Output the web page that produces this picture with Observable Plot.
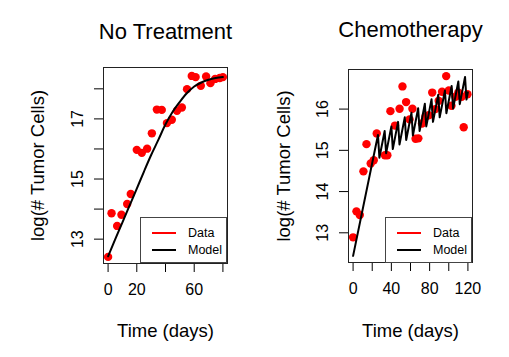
<!DOCTYPE html>
<html>
<head>
<meta charset="utf-8">
<script src="https://cdn.jsdelivr.net/npm/d3@7"></script>
<script src="https://cdn.jsdelivr.net/npm/@observablehq/plot@0.6"></script>
<style>
  html, body { margin: 0; padding: 0; background: #fff; }
  #wrap { position: relative; width: 509px; height: 357px; overflow: hidden; font-family: "Liberation Sans", Arial, sans-serif; }
  #wrap > svg, #wrap > figure { position: absolute; top: 0; margin: 0; }
  .legend { position: absolute; background: #fff; border: 1px solid #444; box-sizing: border-box; width: 87px; height: 46px; font-size: 12.5px; }
  .legend .row { position: absolute; left: 0; height: 16px; width: 100%; }
  .legend .sw { position: absolute; left: 11px; top: 7px; width: 24px; height: 2px; }
  .legend .lab { position: absolute; left: 47px; top: 0; line-height: 16px; }
</style>
</head>
<body>
<div id="wrap"></div>
<script>
// ---------- No Treatment ----------
const ntDays   = [0, 2.4, 6.3, 9.3, 13.3, 15.8, 20, 23.5, 27.2, 30.5, 34, 37.4, 41, 44.4, 48, 51.4, 55, 58.3, 61, 64.6, 68.3, 71.3, 74.6, 77.8, 80];
const ntValues = [12.41, 13.86, 13.44, 13.81, 14.17, 14.5, 15.97, 15.87, 16.01, 16.52, 17.31, 17.3, 16.86, 16.97, 17.27, 17.38, 17.99, 18.43, 18.39, 18.1, 18.41, 18.19, 18.33, 18.36, 18.39];
const ntModelDays   = [0, 5, 10, 15, 20, 25, 30, 35, 40, 45, 50, 55, 60, 65, 70, 75, 80];
const ntModelValues = [12.43, 13.0, 13.56, 14.12, 14.68, 15.25, 15.8, 16.3, 16.82, 17.24, 17.57, 17.86, 18.08, 18.21, 18.3, 18.36, 18.39];
const ntXTicks = [0, 20, 40, 60, 80];
const ntXLabels = [0, 20, 60];
const ntYTicks = [13, 14, 15, 16, 17, 18];
const ntYLabels = [13, 15, 17];

// ---------- Chemotherapy ----------
const chDays   = [0, 3.5, 7, 10.8, 14, 18.4, 21.6, 24.7, 33.3, 35.8, 39, 43.8, 48.6, 51.6, 55.4, 59, 62, 65.3, 68.2, 72, 75.7, 79, 82.7, 86, 89.5, 93, 97.3, 100, 102.8, 107, 110, 113.5, 115.6, 119.5];
const chValues = [12.89, 13.52, 13.43, 14.49, 15.15, 14.68, 14.76, 15.41, 14.88, 14.88, 15.95, 15.6, 16.01, 16.55, 16.17, 15.75, 16.01, 15.28, 15.29, 15.65, 15.82, 15.85, 16.4, 16.0, 16.2, 16.42, 16.8, 16.45, 16.08, 16.3, 16.4, 16.3, 15.56, 16.36];
const chModelDays   = [0, 26, 27.5, 33, 34.5, 40, 41.5, 47, 48.5, 54, 55.5, 61, 62.5, 68, 69.5, 75, 76.5, 82, 83.5, 89, 90.5, 96, 97.5, 103, 104.5, 110, 111.5, 117, 118.5, 120];
const chModelValues = [12.44, 15.37, 14.82, 15.47, 14.93, 15.58, 15.03, 15.69, 15.14, 15.80, 15.25, 15.91, 15.36, 16.02, 15.47, 16.13, 15.58, 16.24, 15.69, 16.35, 15.80, 16.45, 15.90, 16.56, 16.01, 16.67, 16.12, 16.78, 16.23, 16.41];
const chXTicks = [0, 20, 40, 60, 80, 100, 120];
const chXLabels = [0, 40, 80, 120];
const chYTicks = [13, 14, 15, 16];
const chYLabels = [13, 14, 15, 16];

const titles = ["No Treatment", "Chemotherapy"];
const xTitle = "Time (days)";
const yTitle = "log(# Tumor Cells)";
const legendLabels = ["Data", "Model"];
const dataColor = "red";
const modelColor = "black";

const FONT = "'Liberation Sans', Arial, sans-serif";

function panel(o) {
  const pts = o.days.map((t, i) => ({t, v: o.values[i]}));
  const mdl = o.mDays.map((t, i) => ({t, v: o.mValues[i]}));
  return Plot.plot({
    width: o.width, height: 357,
    marginLeft: o.ml, marginRight: o.mr, marginTop: o.mt, marginBottom: o.mb,
    style: {fontFamily: FONT, fontSize: "16px", color: "#000", background: "transparent", overflow: "visible"},
    x: {domain: o.xDomain},
    y: {domain: o.yDomain},
    marks: [
      Plot.axisX(o.xTicks, {tickSize: 9, tickPadding: 11, fontSize: 16, label: null,
        tickFormat: d => o.xLabels.includes(d) ? String(d) : ""}),
      Plot.axisY(o.yTicks, {tickSize: 9, label: null, tickFormat: () => ""}),
      Plot.text(o.yLabels, {y: d => d, text: d => String(d), frameAnchor: "left", dx: -26,
        rotate: -90, textAnchor: "middle", lineAnchor: "middle", fontSize: 16}),
      Plot.text([yTitle], {text: d => d, frameAnchor: "left", dx: o.yTitleDx, rotate: -90,
        textAnchor: "middle", lineAnchor: "middle", fontSize: 18.5}),
      Plot.text([xTitle], {text: d => d, frameAnchor: "bottom", dy: o.xTitleDy,
        textAnchor: "middle", lineAnchor: "middle", fontSize: 18.5}),
      Plot.text([o.title], {text: d => d, frameAnchor: "top", dy: o.titleDy,
        textAnchor: "middle", lineAnchor: "bottom", fontSize: 22}),
      Plot.dot(pts, {x: "t", y: "v", r: 4.2, fill: dataColor, stroke: "none"}),
      Plot.line(mdl, {x: "t", y: "v", stroke: modelColor, strokeWidth: 2, curve: o.curve}),
      Plot.frame({stroke: "#222", strokeWidth: 1})
    ]
  });
}

const wrap = document.getElementById("wrap");

const p1 = panel({
  width: 254, ml: 103, mr: 27, mt: 67, mb: 94,
  xDomain: [-3.2, 83.2], yDomain: [12.19, 18.71],
  days: ntDays, values: ntValues, mDays: ntModelDays, mValues: ntModelValues,
  xTicks: ntXTicks, xLabels: ntXLabels, yTicks: ntYTicks, yLabels: ntYLabels,
  title: titles[0], titleDy: -29, xTitleDy: 68, yTitleDx: -65, curve: "monotone-x"
});
p1.style.left = "0px";
wrap.appendChild(p1);

const p2 = panel({
  width: 255, ml: 94, mr: 37, mt: 69, mb: 95,
  xDomain: [-4.8, 124.8], yDomain: [12.28, 16.96],
  days: chDays, values: chValues, mDays: chModelDays, mValues: chModelValues,
  xTicks: chXTicks, xLabels: chXLabels, yTicks: chYTicks, yLabels: chYLabels,
  title: titles[1], titleDy: -33, xTitleDy: 69, yTitleDx: -64, curve: "linear"
});
p2.style.left = "254px";
wrap.appendChild(p2);

function legend(left, top) {
  const d = document.createElement("div");
  d.className = "legend";
  d.style.left = left + "px";
  d.style.top = top + "px";
  [dataColor, modelColor].forEach((c, i) => {
    const r = document.createElement("div");
    r.className = "row";
    r.style.top = (7 + i * 16.5) + "px";
    const s = document.createElement("div");
    s.className = "sw"; s.style.background = c;
    const l = document.createElement("div");
    l.className = "lab"; l.textContent = legendLabels[i];
    r.appendChild(s); r.appendChild(l);
    d.appendChild(r);
  });
  wrap.appendChild(d);
}
legend(140, 217);
legend(385, 217);
</script>
</body>
</html>
